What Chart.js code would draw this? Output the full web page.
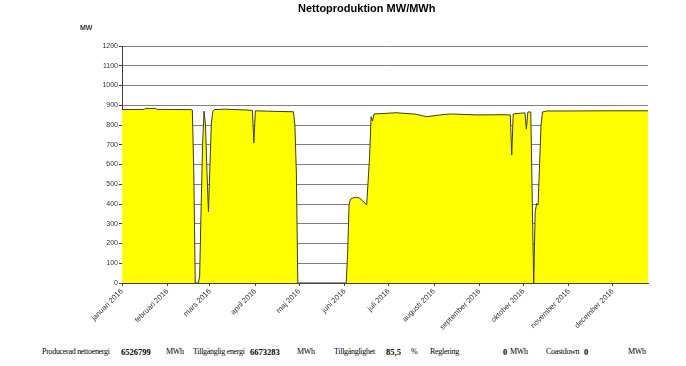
<!DOCTYPE html>
<html>
<head>
<meta charset="utf-8">
<script src="https://cdn.jsdelivr.net/npm/chart.js@4"></script>
<style>
  body { margin: 0; background: #fff; }
  #wrap { position: relative; width: 686px; height: 366px; }
  #chart { position: absolute; left: 0; top: 0; }
  .txt { position: absolute; white-space: nowrap; color: #000; }
  .title { font: bold 11px "Liberation Sans", Arial, sans-serif; }
  .unit { font: bold 7px "Liberation Sans", Arial, sans-serif; color: #333; }
  .foot { font: 8px "Liberation Serif", "Times New Roman", serif; top: 347px; letter-spacing: -0.3px; }
  .foot b { font-weight: bold; font-size: 8.5px; letter-spacing: 0; }
</style>
</head>
<body>
<div id="wrap">
  <canvas id="chart" width="686" height="340"></canvas>
  <div class="txt title" style="left:298px; top:2px;">Nettoproduktion MW/MWh</div>
  <div class="txt unit" style="left:80px; top:24px;">MW</div>
  <div class="txt foot" style="left:42px;">Producerad nettoenergi</div>
  <div class="txt foot" style="left:121px;"><b>6526799</b></div>
  <div class="txt foot" style="left:166px;">MWh</div>
  <div class="txt foot" style="left:193px;">Tillgänglig energi</div>
  <div class="txt foot" style="left:250px;"><b>6673283</b></div>
  <div class="txt foot" style="left:297px;">MWh</div>
  <div class="txt foot" style="left:334px;">Tillgänglighet</div>
  <div class="txt foot" style="left:386px;"><b>85,5</b></div>
  <div class="txt foot" style="left:411px;">%</div>
  <div class="txt foot" style="left:430px;">Reglering</div>
  <div class="txt foot" style="left:503px;"><b>0</b></div>
  <div class="txt foot" style="left:510px;">MWh</div>
  <div class="txt foot" style="left:546px;">Coastdown</div>
  <div class="txt foot" style="left:584px;"><b>0</b></div>
  <div class="txt foot" style="left:628px;">MWh</div>
</div>
<script>
// dagar från 1 jan 2016 och nettoeffekt (MW)
const days = [0, 15, 16, 23, 24, 47, 48, 49, 50, 52, 53, 54, 55, 56, 57, 58, 59, 60, 61, 62, 63,
  70, 85, 89, 90, 91, 100, 117, 118, 119, 120, 153, 154, 155, 156, 158, 160, 162, 164, 167,
  169, 170, 171, 172, 178, 187, 200, 208, 216, 224, 242, 260, 265, 266, 267, 274, 275, 276,
  277, 279, 280, 281, 282, 283, 284, 285, 286, 287, 290, 305, 335, 359];
const mw = [878, 879, 884, 884, 879, 878, 876, 560, 0, 0, 30, 380, 700, 870, 800, 560, 361, 590, 810, 870, 878,
  880, 876, 874, 710, 872, 870, 867, 800, 560, 0, 0, 150, 400, 425, 432, 434, 430, 418, 395,
  640, 842, 820, 856, 858, 862, 855, 842, 850, 856, 851, 852, 851, 648, 856, 861, 862, 780,
  866, 866, 420, 0, 360, 403, 395, 600, 800, 866, 871, 871, 872, 872];

const monthStarts = [0, 31, 60, 91, 121, 152, 182, 213, 244, 274, 305, 335];
const monthLabels = ['januari 2016', 'februari 2016', 'mars 2016', 'april 2016', 'maj 2016', 'juni 2016',
  'juli 2016', 'augusti 2016', 'september 2016', 'oktober 2016', 'november 2016', 'december 2016'];

let ctx = document.getElementById('chart');

let chart = new Chart(ctx, {
  type: 'line',
  data: {
    datasets: [{
      data: days.map((d, i) => ({ x: d, y: mw[i] })),
      fill: 'origin',
      backgroundColor: '#ffff00',
      borderColor: '#3c3c14',
      borderWidth: 1,
      pointRadius: 0,
      tension: 0
    }]
  },
  options: {
    responsive: false,
    animation: false,
    layout: { padding: { top: 46, right: 38, left: 0, bottom: 0 } },
    plugins: { legend: { display: false }, tooltip: { enabled: false } },
    scales: {
      x: {
        type: 'linear',
        min: 0,
        max: 359,
        afterBuildTicks(scale) {
          scale.ticks = monthStarts.map(v => ({ value: v }));
        },
        afterFit(scale) { scale.height = 57; },
        grid: { drawOnChartArea: false, drawTicks: true, tickLength: 3, color: '#404040' },
        border: { color: '#404040', width: 1 },
        ticks: {
          autoSkip: false,
          minRotation: 45,
          maxRotation: 45,
          padding: 1,
          color: '#333',
          font: { family: 'Liberation Sans', size: 7.5 },
          callback(value) { return monthLabels[monthStarts.indexOf(value)]; }
        }
      },
      y: {
        min: 0,
        max: 1200,
        afterFit(scale) { scale.width = 122; },
        grid: { color: '#7f7f7f', lineWidth: 1, tickLength: 3, tickColor: '#404040' },
        border: { color: '#404040', width: 1 },
        ticks: {
          stepSize: 100,
          padding: 1,
          color: '#333',
          font: { family: 'Liberation Sans', size: 7 },
          callback(value) { return String(value); }
        }
      }
    }
  }
});
</script>
</body>
</html>
